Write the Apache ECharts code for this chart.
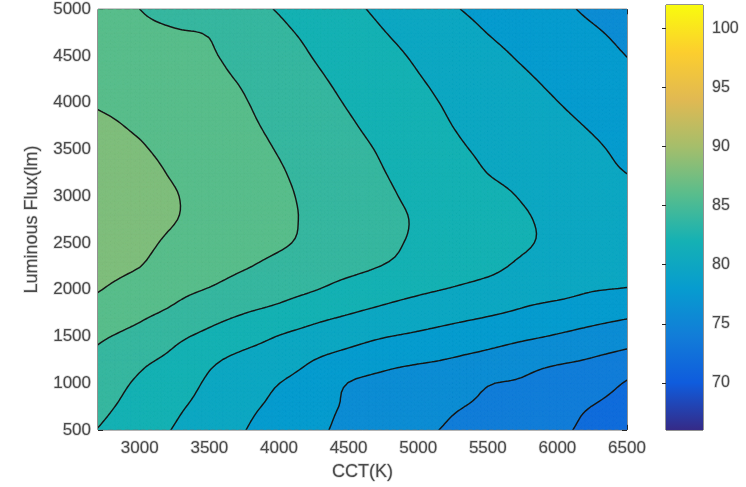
<!DOCTYPE html>
<html><head><meta charset="utf-8">
<script src="https://cdn.jsdelivr.net/npm/echarts@6/dist/echarts.min.js"></script>
<style>html,body{margin:0;padding:0;background:#fff}#c{width:746px;height:487px}</style>
</head><body><div id="c"></div>
<script>
// Grid nodes
const cctValues = [2700, 3000, 3250, 3500, 3750, 4000, 4250, 4500, 4750, 5000, 5250, 5500, 5750, 6000, 6250, 6500];
const fluxValues = [500, 750, 1000, 1250, 1500, 1750, 2000, 2250, 2500, 2750, 3000, 3250, 3500, 3750, 4000, 4250, 4500, 4750, 5000];

// Ra values per CCT column, listed from 500 lm up to 5000 lm
const ra2700 = [83.95, 84.48, 85.04, 85.6, 86.26, 87.2, 88.09, 88.6, 88.96, 89.16, 89.2, 89.08, 88.8, 88.38, 87.85, 87.5, 87.2, 86.95, 86.7];
const ra3000 = [82.9, 83.32, 83.74, 84.39, 85.42, 86.37, 87.21, 88.03, 88.45, 88.67, 88.68, 88.51, 88.17, 87.78, 87.42, 87.07, 86.72, 86.36, 86.0];
const ra3250 = [81.9, 82.33, 82.96, 83.58, 84.4, 85.65, 86.44, 87.05, 87.65, 88.05, 88.08, 87.84, 87.55, 87.26, 86.97, 86.68, 86.39, 86.1, 85.5];
const ra3500 = [80.98, 81.36, 81.73, 82.35, 83.55, 84.73, 85.9, 86.78, 87.35, 87.48, 87.46, 87.34, 87.05, 86.78, 86.53, 86.3, 86.13, 85.9, 85.0];
const ra3750 = [80.05, 80.38, 80.84, 81.53, 82.73, 84.03, 85.12, 86.15, 86.79, 86.91, 86.88, 86.74, 86.49, 86.27, 86.08, 85.85, 85.52, 85.0, 84.45];
const ra4000 = [79.19, 79.6, 80.02, 81.02, 81.94, 83.48, 84.63, 85.5, 86.22, 86.33, 86.29, 86.14, 85.91, 85.66, 85.38, 85.07, 84.73, 84.32, 83.9];
const ra4250 = [78.33, 78.58, 79.1, 80.02, 81.29, 82.66, 84.08, 85.03, 85.61, 85.73, 85.65, 85.46, 85.21, 84.93, 84.62, 84.29, 83.94, 83.6, 83.14];
const ra4500 = [77.61, 77.8, 77.97, 79.3, 80.69, 82.08, 83.34, 84.49, 84.98, 85.09, 84.96, 84.76, 84.52, 84.2, 83.87, 83.55, 83.21, 82.83, 82.39];
const ra4750 = [76.98, 77.22, 77.49, 78.64, 80.1, 81.55, 82.78, 83.95, 84.35, 84.45, 84.27, 84.05, 83.8, 83.46, 83.14, 82.82, 82.48, 82.06, 81.63];
const ra5000 = [76.35, 76.65, 77.01, 78.25, 79.69, 81.06, 82.3, 83.45, 83.76, 83.84, 83.65, 83.38, 83.04, 82.72, 82.41, 82.1, 81.77, 81.36, 80.89];
const ra5250 = [75.78, 76.18, 77.04, 77.89, 79.26, 80.61, 81.86, 82.94, 83.23, 83.27, 83.06, 82.7, 82.29, 81.99, 81.75, 81.47, 81.11, 80.66, 80.14];
const ra5500 = [75.27, 75.65, 76.1, 77.4, 78.8, 80.2, 81.35, 82.44, 82.69, 82.7, 82.48, 81.98, 81.7, 81.46, 81.18, 80.85, 80.45, 79.97, 79.53];
const ra5750 = [74.76, 75.27, 75.78, 76.83, 78.31, 79.74, 80.77, 81.72, 82.16, 82.14, 81.9, 81.5, 81.22, 80.94, 80.61, 80.24, 79.81, 79.38, 78.95];
const ra6000 = [74.26, 74.51, 74.95, 76.33, 77.85, 79.22, 80.6, 81.48, 81.7, 81.69, 81.47, 80.99, 80.73, 80.41, 80.03, 79.63, 79.21, 78.79, 78.38];
const ra6250 = [73.6, 73.98, 74.93, 75.88, 77.35, 78.78, 80.1, 81.02, 81.28, 81.28, 81.03, 80.51, 80.25, 79.86, 79.43, 79.02, 78.61, 78.2, 77.7];
const ra6500 = [72.5, 73.1, 73.85, 75.3, 76.83, 78.39, 79.91, 80.55, 80.85, 80.87, 80.59, 79.98, 79.61, 79.21, 78.81, 78.41, 77.98, 77.6, 77.2];
const raByCct = [ra2700, ra3000, ra3250, ra3500, ra3750, ra4000, ra4250, ra4500, ra4750, ra5000, ra5250, ra5500, ra5750, ra6000, ra6250, ra6500];

const contourLevels = [72, 74, 76, 78, 80, 82, 84, 86, 88, 90];
const xTickValues = [3000, 3500, 4000, 4500, 5000, 5500, 6000, 6500];
const colorbarTicks = [70, 75, 80, 85, 90, 95, 100];
const colorRange = [66, 102];
const parulaStops = ['#352a87', '#0f5cdd', '#127dd8', '#079ccf', '#15b1b4', '#59bd8c', '#a5be6b', '#e1b952', '#fcce2e', '#f9fb0e'];

function hexToRgb(h) { return [1, 3, 5].map(i => parseInt(h.substr(i, 2), 16)); }
function parula(v) {
  let t = (v - colorRange[0]) / (colorRange[1] - colorRange[0]);
  t = Math.max(0, Math.min(1, t)) * (parulaStops.length - 1);
  const i = Math.min(Math.floor(t), parulaStops.length - 2), f = t - i;
  const a = hexToRgb(parulaStops[i]), b = hexToRgb(parulaStops[i + 1]);
  return 'rgb(' + a.map((c, k) => Math.round(c + (b[k] - c) * f)).join(',') + ')';
}

// rendering helpers (smooth surface through the grid nodes, like a contour renderer)
function cr(p0, p1, p2, p3, t) {
  const t2 = t * t, t3 = t2 * t;
  return 0.5 * ((2 * p1) + (-p0 + p2) * t + (2 * p0 - 5 * p1 + 4 * p2 - p3) * t2 + (-p0 + 3 * p1 - 3 * p2 + p3) * t3);
}
function nodeVal(i, j) {
  const nx = cctValues.length, ny = fluxValues.length;
  const ci = Math.max(0, Math.min(nx - 1, i)), cj = Math.max(0, Math.min(ny - 1, j));
  let v = raByCct[ci][cj];
  if (i < 0) v = 2 * raByCct[0][cj] - raByCct[1][cj];
  if (i > nx - 1) v = 2 * raByCct[nx - 1][cj] - raByCct[nx - 2][cj];
  if (j < 0) v += (2 * raByCct[ci][0] - raByCct[ci][1]) - raByCct[ci][0];
  if (j > ny - 1) v += (2 * raByCct[ci][ny - 1] - raByCct[ci][ny - 2]) - raByCct[ci][ny - 1];
  return v;
}
function surf(i, j, u, w) {
  const col = [];
  for (let m = -1; m <= 2; m++) col.push(cr(nodeVal(i - 1, j + m), nodeVal(i, j + m), nodeVal(i + 1, j + m), nodeVal(i + 2, j + m), u));
  return cr(col[0], col[1], col[2], col[3], w);
}

function lerpPt(a, b, t) { return [a[0] + (b[0] - a[0]) * t, a[1] + (b[1] - a[1]) * t, a[2] + (b[2] - a[2]) * t]; }
function clipPoly(poly, L, s) {
  const out = [];
  for (let i = 0; i < poly.length; i++) {
    const a = poly[i], b = poly[(i + 1) % poly.length];
    const da = s * (a[2] - L), db = s * (b[2] - L);
    if (da >= 0) out.push(a);
    if ((da >= 0) !== (db >= 0)) out.push(lerpPt(a, b, da / (da - db)));
  }
  return out;
}

function renderContour(params, api) {
  const S = 5;
  const nx = cctValues.length, ny = fluxValues.length;
  const nBands = contourLevels.length - 1;
  const bandD = new Array(nBands).fill('');
  let lineD = '';
  const px = p => { const c = api.coord([p[0], p[1]]); return c[0].toFixed(2) + ' ' + c[1].toFixed(2); };
  function addTri(tri) {
    const vs = tri.map(p => p[2]);
    const vmin = Math.min(...vs), vmax = Math.max(...vs);
    for (let k = 0; k < nBands; k++) {
      const lo = contourLevels[k], hi = contourLevels[k + 1];
      if (vmax < lo || vmin > hi) continue;
      let poly = clipPoly(tri, lo, 1);
      if (poly.length < 3) continue;
      poly = clipPoly(poly, hi, -1);
      if (poly.length < 3) continue;
      bandD[k] += 'M' + poly.map(px).join('L') + 'Z';
    }
    for (const L of contourLevels) {
      if (!(vmin < L && vmax >= L)) continue;
      const pts = [];
      for (let i = 0; i < 3; i++) {
        const a = tri[i], b = tri[(i + 1) % 3];
        if ((a[2] >= L) !== (b[2] >= L)) pts.push(lerpPt(a, b, (L - a[2]) / (b[2] - a[2])));
      }
      if (pts.length === 2) lineD += 'M' + px(pts[0]) + 'L' + px(pts[1]);
    }
  }
  const fx = (nx - 1) * S + 1, fy = (ny - 1) * S + 1;
  const F = [];
  for (let a = 0; a < fx; a++) {
    const i = Math.min(Math.floor(a / S), nx - 2), u = a / S - i;
    const cct = cctValues[i] + (cctValues[i + 1] - cctValues[i]) * u;
    const colArr = [];
    for (let b = 0; b < fy; b++) {
      const j = Math.min(Math.floor(b / S), ny - 2), w = b / S - j;
      const flux = fluxValues[j] + (fluxValues[j + 1] - fluxValues[j]) * w;
      colArr.push([cct, flux, surf(i, j, u, w)]);
    }
    F.push(colArr);
  }
  for (let a = 0; a < fx - 1; a++) {
    for (let b = 0; b < fy - 1; b++) {
      const p00 = F[a][b], p10 = F[a + 1][b], p11 = F[a + 1][b + 1], p01 = F[a][b + 1];
      const ctr = [(p00[0] + p10[0]) / 2, (p00[1] + p01[1]) / 2, (p00[2] + p10[2] + p11[2] + p01[2]) / 4];
      addTri([p00, p10, ctr]); addTri([p10, p11, ctr]); addTri([p11, p01, ctr]); addTri([p01, p00, ctr]);
    }
  }
  const children = [];
  for (let k = 0; k < nBands; k++) {
    if (!bandD[k]) continue;
    const col = parula(contourLevels[k]);
    children.push({ type: 'path', shape: { pathData: bandD[k] }, style: { fill: col, stroke: col, lineWidth: 0.6 } });
  }
  children.push({ type: 'path', shape: { pathData: lineD }, style: { fill: null, stroke: '#151515', lineWidth: 1.45, lineCap: 'round', lineJoin: 'round' } });
  return { type: 'group', children };
}

function renderColorbar(params, api) {
  const p0 = api.coord([0, colorRange[1]]), p1 = api.coord([1, colorRange[0]]);
  const n = parulaStops.length - 1;
  const stops = parulaStops.map((c, i) => ({ offset: 1 - i / n, color: c })).reverse();
  return { type: 'rect', shape: { x: p0[0], y: p0[1], width: p1[0] - p0[0], height: p1[1] - p0[1] },
    style: { fill: { type: 'linear', x: 0, y: 0, x2: 0, y2: 1, colorStops: stops } } };
}

const txt = { fontFamily: 'Liberation Sans', color: '#4a4a4a', textBorderColor: 'rgba(150,150,150,0.35)', textBorderWidth: 1.5 };
const tickStyle = { lineStyle: { color: '#262626', width: 1 } };
const plain = v => String(v);

const chart = echarts.init(document.getElementById('c'), null, { renderer: 'canvas' });
chart.setOption({
  animation: false,
  backgroundColor: '#ffffff',
  grid: [
    { left: 98, top: 5, width: 529, height: 425, show: true, borderColor: '#262626', borderWidth: 1, backgroundColor: 'transparent' },
    { left: 666, top: 5, width: 37, height: 425, show: true, borderColor: '#262626', borderWidth: 1, backgroundColor: 'transparent' }
  ],
  xAxis: [
    { type: 'value', gridIndex: 0, min: 2700, max: 6500, position: 'bottom',
      axisLine: { show: false }, splitLine: { show: false },
      axisTick: { inside: true, length: 5, customValues: xTickValues, ...tickStyle },
      axisLabel: { customValues: xTickValues, formatter: plain, margin: 10, fontSize: 17, ...txt },
      name: 'CCT(K)', nameLocation: 'middle', nameGap: 32, nameTextStyle: { fontSize: 18, ...txt } },
    { type: 'value', gridIndex: 0, min: 2700, max: 6500, position: 'top',
      axisLine: { show: false }, splitLine: { show: false }, axisLabel: { show: false },
      axisTick: { inside: true, length: 5, customValues: xTickValues, ...tickStyle } },
    { type: 'value', gridIndex: 1, min: 0, max: 1, show: false }
  ],
  yAxis: [
    { type: 'value', gridIndex: 0, min: 500, max: 5000, interval: 500, position: 'left',
      axisLine: { show: false }, splitLine: { show: false },
      axisTick: { inside: true, length: 5, ...tickStyle },
      axisLabel: { formatter: plain, margin: 7, fontSize: 17, ...txt },
      name: 'Luminous Flux(lm)', nameLocation: 'middle', nameGap: 56, nameRotate: 90, nameTextStyle: { fontSize: 18, ...txt } },
    { type: 'value', gridIndex: 0, min: 500, max: 5000, interval: 500, position: 'right',
      axisLine: { show: false }, splitLine: { show: false }, axisLabel: { show: false },
      axisTick: { inside: true, length: 5, ...tickStyle } },
    { type: 'value', gridIndex: 1, min: colorRange[0], max: colorRange[1], position: 'right',
      axisLine: { show: false }, splitLine: { show: false },
      axisTick: { inside: true, length: 4, customValues: colorbarTicks, ...tickStyle },
      axisLabel: { customValues: colorbarTicks, formatter: plain, margin: 9, fontSize: 16, ...txt } }
  ],
  series: [
    { type: 'custom', xAxisIndex: 0, yAxisIndex: 0, clip: true, data: [[0]], renderItem: renderContour, silent: true },
    { type: 'custom', xAxisIndex: 2, yAxisIndex: 2, clip: true, data: [[0]], renderItem: renderColorbar, silent: true }
  ]
});
</script></body></html>
